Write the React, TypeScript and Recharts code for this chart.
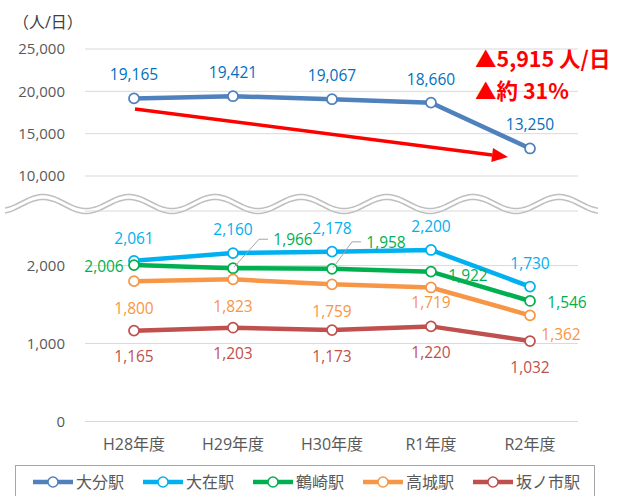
import { CartesianGrid, LabelList, Line, LineChart, XAxis, YAxis } from "recharts";

const categories = ["H28年度", "H29年度", "H30年度", "R1年度", "R2年度"];
const oitaValues = [19165, 19421, 19067, 18660, 13250];
const ozaiValues = [2061, 2160, 2178, 2200, 1730];
const tsurusakiValues = [2006, 1966, 1958, 1922, 1546];
const takajoValues = [1800, 1823, 1759, 1719, 1362];
const sakanoichiValues = [1165, 1203, 1173, 1220, 1032];
const topTicks = [10000, 15000, 20000, 25000];
const bottomTicks = [0, 1000, 2000];

const data = categories.map((name, i) => ({
  name,
  大分駅: oitaValues[i],
  大在駅: ozaiValues[i],
  鶴崎駅: tsurusakiValues[i],
  高城駅: takajoValues[i],
  坂ノ市駅: sakanoichiValues[i],
}));

// label placement relative to each point: [dx, dy, leader line?]
const series = [
  { key: "大分駅", color: "#4F81BD", labelColor: "#0070C0", offsets: [[0, -24], [0, -24], [0, -24], [0, -24], [0, -24]] },
  { key: "大在駅", color: "#00B0F0", labelColor: "#00B0F0", offsets: [[0, -23], [0, -24], [0, -24], [0, -24], [0, -24]] },
  { key: "鶴崎駅", color: "#00B050", labelColor: "#00B050", offsets: [[-30, 1], [60, -29, 1], [54, -27, 1], [37, 3], [37, 1]] },
  { key: "高城駅", color: "#F79646", labelColor: "#F79646", offsets: [[0, 27], [0, 27], [0, 27], [0, 15], [31, 19]] },
  { key: "坂ノ市駅", color: "#C0504D", labelColor: "#C0504D", offsets: [[0, 25.5], [0, 25.5], [0, 25.5], [0, 25.5], [0, 26]] },
];

const fmt = (v: number) => v.toLocaleString("en-US");

function makeLabel(color: string, offsets: number[][]) {
  return (props: any) => {
    const { x, y, value, index } = props;
    const [dx, dy, leader] = offsets[index];
    const cx = x + dx;
    const cy = y + dy;
    return (
      <g>
        {leader ? (
          <polyline
            points={`${x + 1},${y - 1} ${cx - 34},${cy} ${cx - 25},${cy}`}
            fill="none"
            stroke="#A6A6A6"
            strokeWidth={1}
          />
        ) : null}
        <text x={cx} y={cy} textAnchor="middle" dominantBaseline="central" fill={color} fontSize={15.5}>
          {fmt(value)}
        </text>
      </g>
    );
  };
}

function renderLine(s: (typeof series)[number]) {
  return (
    <Line
      key={s.key}
      dataKey={s.key}
      stroke={s.color}
      strokeWidth={4.5}
      dot={{ r: 5, fill: "#ffffff", stroke: s.color, strokeWidth: 1.75 }}
      isAnimationActive={false}
    >
      <LabelList dataKey={s.key} content={makeLabel(s.labelColor, s.offsets)} />
    </Line>
  );
}

function wavePath(offset: number) {
  let d = "";
  for (let x = 5; x <= 598; x += 1) {
    const y = 204 - 7 * Math.cos((2 * Math.PI * (x - 43)) / 86) + offset;
    d += (x === 5 ? "M" : "L") + x + "," + y.toFixed(2);
  }
  return d;
}

function arrow() {
  const x1 = 135, y1 = 109, x2 = 508, y2 = 157;
  const len = Math.hypot(x2 - x1, y2 - y1);
  const ux = (x2 - x1) / len, uy = (y2 - y1) / len;
  const bx = x2 - 16 * ux, by = y2 - 16 * uy;
  const px = -uy * 7, py = ux * 7;
  return (
    <g>
      <line x1={x1} y1={y1} x2={bx} y2={by} stroke="#FF0000" strokeWidth={3.5} />
      <polygon points={`${x2},${y2} ${bx + px},${by + py} ${bx - px},${by - py}`} fill="#FF0000" />
    </g>
  );
}

export default function App() {
  const axisTick = { fill: "#595959", fontSize: 15 };
  return (
    <div
      style={{
        position: "absolute",
        left: 0,
        top: 0,
        width: 618,
        height: 496,
        overflow: "hidden",
        background: "#ffffff",
        fontFamily: "'Open Sans', 'Noto Sans CJK JP', sans-serif",
      }}
    >
      <div style={{ position: "absolute", left: 0, top: 0 }}>
        <LineChart width={618} height={190} data={data} margin={{ top: 49, right: 40, bottom: 14, left: 0 }}>
          <CartesianGrid vertical={false} stroke="#D9D9D9" />
          <XAxis dataKey="name" hide scale="point" padding={{ left: 49, right: 48 }} />
          <YAxis
            domain={[10000, 25000]}
            ticks={topTicks}
            width={85}
            tickSize={0}
            tickMargin={20}
            axisLine={false}
            tickLine={false}
            tick={axisTick}
            tickFormatter={fmt}
          />
          {renderLine(series[0])}
        </LineChart>
      </div>

      <div style={{ position: "absolute", left: 0, top: 200 }}>
        <LineChart width={618} height={296} data={data} margin={{ top: 11, right: 40, bottom: 44.5, left: 0 }}>
          <CartesianGrid vertical={false} stroke="#D9D9D9" />
          <XAxis
            dataKey="name"
            scale="point"
            padding={{ left: 49, right: 48 }}
            height={30}
            tickSize={0}
            tickMargin={17}
            axisLine={false}
            tickLine={false}
            tick={{ fill: "#595959", fontSize: 16 }}
          />
          <YAxis
            domain={[0, 2700]}
            ticks={bottomTicks}
            width={85}
            tickSize={0}
            tickMargin={20}
            axisLine={false}
            tickLine={false}
            tick={axisTick}
            tickFormatter={fmt}
          />
          {series.slice(1).map(renderLine)}
        </LineChart>
      </div>

      <svg width={618} height={496} style={{ position: "absolute", left: 0, top: 0, pointerEvents: "none" }}>
        <text x={13} y={22} dominantBaseline="central" fill="#404040" fontSize={16}>
          （人/日）
        </text>
        <path d={wavePath(-2.5)} fill="none" stroke="#BFBFBF" strokeWidth={1.5} />
        <path d={wavePath(2.5)} fill="none" stroke="#BFBFBF" strokeWidth={1.5} />
        {arrow()}
        <text x={475} y={57} dominantBaseline="central" fill="#FF0000" fontSize={21.5} fontWeight="bold" fontFamily="'Noto Sans CJK JP'">
          ▲5,915 人/日
        </text>
        <text x={475} y={89} dominantBaseline="central" fill="#FF0000" fontSize={21.5} fontWeight="bold" fontFamily="'Noto Sans CJK JP'">
          ▲約 31%
        </text>
      </svg>

      <div
        style={{
          position: "absolute",
          left: 15,
          top: 465,
          width: 580,
          height: 40,
          boxSizing: "border-box",
          border: "1px solid #A6A6A6",
          display: "flex",
          alignItems: "flex-start",
          paddingLeft: 17,
          paddingTop: 6,
        }}
      >
        {series.map((s) => (
          <div key={s.key} style={{ display: "flex", alignItems: "center", marginRight: 19, flexShrink: 0 }}>
            <svg width={40} height={16} style={{ flexShrink: 0 }}>
              <line x1={0} y1={8} x2={40} y2={8} stroke={s.color} strokeWidth={4.5} />
              <circle cx={20} cy={8} r={5} fill="#ffffff" stroke={s.color} strokeWidth={1.5} />
            </svg>
            <span style={{ marginLeft: 3, fontSize: 16, color: "#595959", lineHeight: "20px", whiteSpace: "nowrap" }}>
              {s.key}
            </span>
          </div>
        ))}
      </div>
    </div>
  );
}
